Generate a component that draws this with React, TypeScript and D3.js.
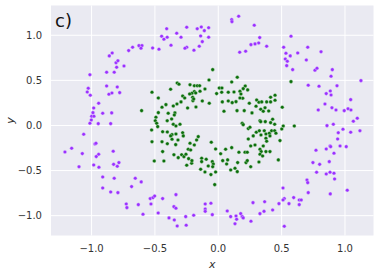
import React from "react";
import * as d3 from "d3";

const outerX = [
  -1.013, -0.86, -0.837, -0.807, -0.792, -0.802, -0.744, -0.881, -0.821, -0.707, -0.676, -0.626, -0.602, -0.61, -0.518, -0.468,
  -1.026, -1.034, -1.01, -0.881, -0.797, -0.863, -0.839, -0.778, -0.944, -0.983, -0.912, -0.841, -0.989, -0.999, -0.981, -1.002,
  -1.013, -0.947, -0.849, -1.062, -0.973, -0.965, -1.21, -1.157, -1.073, -0.944, -0.963, -0.829, -1.099, -0.983, -0.942, -0.826,
  -0.784, -0.797, -0.912, -0.821, -0.912, -0.849, -0.792, -0.655, -0.608, -0.684, -0.726, -0.721, -0.631, -0.537, -0.515, -0.502,
  -0.531, -0.594, -0.474,
  -0.407, -0.447, -0.429, -0.403, -0.328, -0.294, -0.249, -0.166, -0.134, -0.11, -0.076, -0.139, -0.076, -0.126, -0.15, -0.249,
  -0.263, -0.192, -0.373, 0.106, 0.108, 0.161, 0.284, 0.327, 0.319, 0.29, 0.258, 0.382, 0.216, 0.169,
  0.574, 0.516, 0.534, 0.568, 0.627, 0.706, 0.811, 0.529, 0.545, 0.54, 0.587, 0.695, 0.763, 0.779, 0.9, 0.89,
  0.71, 0.795, 0.937, 1.126, 0.884, 0.852, 0.89, 1.045, 0.842, 0.897, 0.929, 0.789, 0.994, 1.024, 1.047, 1.097, 1.066,
  -0.439, -0.334, -0.35, -0.334, -0.389, -0.347, -0.324, -0.253, -0.257, -0.194, -0.103, -0.058, -0.103, -0.103, -0.047, 0.071,
  0.098, 0.14, 0.145, 0.132, 0.177, 0.189, 0.197, 0.258, 0.274, 0.366, 0.329, 0.361,
  0.858, 0.908, 0.984, 0.947, 1.045, 1.118, 0.942, 0.961, 1.01, 0.882, 0.887, 0.852, 0.913, 0.771, 0.747, 0.8,
  0.876, 0.776, 0.852, 0.882, 0.913, 0.918, 0.7, 0.706, 1.018, 0.884, 0.71, 0.511, 0.595, 0.639, 0.655, 0.639,
  0.558, 0.521, 0.511, 0.479, 0.429, 0.521,
];
const outerY = [
  0.563, 0.771, 0.804, 0.696, 0.718, 0.645, 0.66, 0.59, 0.59, 0.83, 0.867, 0.885, 0.885, 0.856, 0.859, 0.845,
  0.412, 0.371, 0.335, 0.438, 0.427, 0.346, 0.36, 0.364, 0.246, 0.194, 0.135, 0.139, 0.142, 0.102, 0.102, 0.061,
  0.024, 0.02, 0.02, -0.098, -0.205, -0.198, -0.294, -0.253, -0.312, -0.32, -0.345, -0.286, -0.457, -0.438, -0.464, -0.431,
  -0.412, -0.453, -0.571, -0.586, -0.693, -0.737, -0.745, -0.586, -0.626, -0.678, -0.87, -0.911, -0.878, -0.811, -0.8, -0.782,
  -0.87, -0.985, -0.97,
  1.073, 0.989, 0.956, 0.978, 1.022, 0.978, 1.089, 1.073, 1.092, 1.051, 1.084, 0.992, 0.978, 0.929, 0.878, 0.867,
  0.856, 0.834, 0.889, 1.173, 1.151, 1.211, 1.111, 0.974, 0.915, 0.904, 0.896, 0.878, 0.823, 0.812,
  0.989, 0.867, 0.8, 0.771, 0.804, 0.867, 0.818, 0.737, 0.712, 0.663, 0.619, 0.726, 0.612, 0.634, 0.619, 0.545,
  0.446, 0.435, 0.441, 0.497, 0.382, 0.353, 0.338, 0.286, 0.238, 0.197, 0.172, 0.172, 0.164, 0.186, 0.172, 0.08, 0.047,
  -0.811, -0.767, -0.9, -0.918, -1.025, -1.048, -1.114, -1.106, -1.011, -0.996, -0.87, -0.863, -0.926, -0.952, -0.989, -0.948,
  -1.011, -1.003, -1.04, -1.089, -0.978, -1.011, -1.025, -1.062, -0.856, -0.845, -0.978, -0.952,
  -0.002, 0.013, -0.042, -0.08, -0.075, -0.058, -0.15, -0.227, -0.235, -0.227, -0.235, -0.261, -0.308, -0.275, -0.412, -0.431,
  -0.401, -0.519, -0.538, -0.519, -0.53, -0.593, -0.604, -0.634, -0.718, -0.759, -0.745, -0.693, -0.8, -0.826, -0.826, -0.878,
  -0.867, -0.811, -0.826, -0.867, -0.937, -1.118,
];

const innerX = [
  -0.523, -0.473, -0.605, -0.473, -0.492, -0.497, -0.526, -0.486, -0.478, -0.523, -0.505,
  -0.044, 0.15, 0.106, -0.324, -0.31, -0.223, -0.189, -0.166, -0.147, -0.376, -0.073, -0.105, 0.008, 0.029,
  -0.013, 0.027, 0.079, 0.124, 0.171, 0.213, 0.197, 0.232, 0.179, 0.193, 0.171, -0.189, -0.208, -0.178, -0.226,
  -0.281, -0.265, -0.202, -0.2, -0.194, -0.144, -0.126, -0.071, -0.176, -0.294, -0.326, -0.355, -0.413, -0.444,
  -0.342, -0.347, -0.395, -0.242, -0.368, -0.403, 0.032, 0.079, 0.11, 0.14, 0.245, 0.303, 0.321, 0.343, 0.382,
  0.298, 0.369, 0.335, 0.355, 0.398, 0.205, 0.148, 0.045, 0.266, 0.329,
  0.574, 0.448, 0.448, 0.413, 0.413, 0.505, 0.429,
  -0.355, -0.334, -0.302, -0.439, -0.402, -0.365, -0.334, -0.376, -0.281, -0.276, -0.444, -0.402, -0.365, -0.336,
  -0.318, -0.223, -0.189, -0.158, -0.171, -0.237, -0.218, -0.439, -0.35, -0.316, -0.289, -0.271, -0.255, -0.234,
  -0.21, -0.208, -0.429, -0.249, -0.131, -0.131, -0.095, -0.055, -0.021, -0.047, -0.039, -0.079, -0.044, -0.139,
  -0.105, -0.058, -0.021, -0.028, 0.019, 0.058, 0.106, 0.035, 0.074, 0.066, 0.098, 0.132, 0.15, 0.163, 0.211,
  0.229, 0.153, 0.219, 0.229, 0.256, 0.321, 0.256, 0.29, 0.237, 0.189, 0.197, 0.237, 0.25, 0.276, 0.3, 0.324,
  0.337, 0.363, 0.376, 0.403, 0.376, 0.329, 0.339, 0.329, 0.35, 0.376, 0.382, 0.355, 0.371, 0.335,
  0.413, 0.445, 0.513, 0.6, 0.501, 0.421, 0.445, 0.455, 0.408, 0.487, 0.408, 0.474,
];
const innerY = [
  0.368, 0.305, 0.164, 0.142, 0.091, 0.053, -0.05, 0.024, -0.013, -0.18, -0.394,
  0.619, 0.534, 0.482, 0.471, 0.457, 0.452, 0.441, 0.441, 0.441, 0.401, 0.504, 0.405, 0.416, 0.416,
  0.353, 0.368, 0.368, 0.371, 0.379, 0.438, 0.408, 0.394, 0.349, 0.302, 0.305, 0.375, 0.357, 0.36, 0.349,
  0.327, 0.305, 0.313, 0.275, 0.294, 0.379, 0.272, 0.246, 0.205, 0.261, 0.238, 0.216, 0.231, 0.202,
  0.139, 0.116, 0.135, 0.194, 0.072, 0.053, 0.261, 0.272, 0.253, 0.264, 0.246, 0.283, 0.257, 0.261, 0.261,
  0.213, 0.197, 0.18, 0.157, 0.161, 0.164, 0.164, 0.157, 0.139, 0.053,
  0.486, 0.335, 0.279, 0.313, 0.261, 0.202, 0.069,
  0.013, -0.006, 0.013, -0.069, -0.072, -0.102, -0.094, -0.116, -0.08, -0.116, -0.18, -0.202, -0.153, -0.213,
  -0.161, -0.197, -0.216, -0.124, -0.161, -0.264, -0.272, -0.29, -0.324, -0.357, -0.324, -0.346, -0.319, -0.368,
  -0.419, -0.39, -0.394, -0.441, -0.364, -0.401, -0.375, -0.186, -0.261, -0.401, -0.427, -0.449, -0.457, -0.486,
  -0.516, -0.545, -0.516, -0.656, -0.313, -0.264, -0.246, -0.39, -0.382, -0.427, -0.493, -0.475, -0.512, -0.297, -0.297,
  -0.297, -0.412, -0.412, -0.39, -0.457, -0.405, -0.227, -0.216, -0.15, 0.024, 0.009, -0.035, -0.02, -0.116, -0.075, -0.058,
  -0.105, -0.058, -0.094, -0.086, -0.142, -0.264, -0.29, -0.319, -0.338, -0.29, -0.175, -0.227, 0.042, 0.042,
  0.031, 0.013, -0.006, -0.006, -0.039, -0.058, -0.058, -0.086, -0.116, -0.168, -0.29, -0.382,
];

const xTicks = [-1.0, -0.5, 0.0, 0.5, 1.0];
const yTicks = [-1.0, -0.5, 0.0, 0.5, 1.0];
const panelLabel = "c)";

const W = 382;
const H = 274;
const M = { left: 51, right: 8.5, top: 5.5, bottom: 38.5 };

export default function App() {
  const x = d3.scaleLinear().domain([-1.32, 1.225]).range([M.left, W - M.right]);
  const y = d3.scaleLinear().domain([-1.22, 1.33]).range([H - M.bottom, M.top]);
  const fmt = d3.format(".1f");
  const lab = (v: number) => fmt(v).replace("-", "\u2212");
  const font = "'DejaVu Sans', sans-serif";
  const outer = outerX.map((v, i) => [v, outerY[i]]);
  const inner = innerX.map((v, i) => [v, innerY[i]]);
  return (
    <svg width={W} height={H} style={{ position: "absolute", left: 0, top: 0 }}>
      <rect x={0} y={0} width={W} height={H} fill="#fff" />
      <rect x={M.left} y={M.top} width={W - M.left - M.right} height={H - M.top - M.bottom} fill="#eaeaf2" />
      {xTicks.map((t) => (
        <line key={"gx" + t} x1={x(t)} x2={x(t)} y1={M.top} y2={H - M.bottom} stroke="#fff" strokeWidth={1} />
      ))}
      {yTicks.map((t) => (
        <line key={"gy" + t} y1={y(t)} y2={y(t)} x1={M.left} x2={W - M.right} stroke="#fff" strokeWidth={1} />
      ))}
      {outer.map((p, i) => (
        <circle key={"o" + i} cx={x(p[0])} cy={y(p[1])} r={1.8} fill="#9b30ff" stroke="#e6d6ff" strokeWidth={0.4} />
      ))}
      {inner.map((p, i) => (
        <circle key={"n" + i} cx={x(p[0])} cy={y(p[1])} r={1.8} fill="#0b6e0b" stroke="#c8e0c8" strokeWidth={0.4} />
      ))}
      {xTicks.map((t) => (
        <text key={"tx" + t} x={x(t)} y={H - M.bottom + 16} textAnchor="middle" fontFamily={font} fontSize={10} fill="#333">
          {lab(t)}
        </text>
      ))}
      {yTicks.map((t) => (
        <text key={"ty" + t} x={M.left - 9} y={y(t) + 3.5} textAnchor="end" fontFamily={font} fontSize={10} fill="#333">
          {lab(t)}
        </text>
      ))}
      <text x={(M.left + W - M.right) / 2} y={H - 6} textAnchor="middle" fontFamily={font} fontStyle="italic" fontSize={11} fill="#333">
        x
      </text>
      <text transform={`translate(14,${(M.top + H - M.bottom) / 2}) rotate(-90)`} textAnchor="middle" fontFamily={font} fontStyle="italic" fontSize={11} fill="#333">
        y
      </text>
      <text x={M.left + 4} y={M.top + 21} fontFamily={font} fontSize={18} fill="#111">
        {panelLabel}
      </text>
    </svg>
  );
}
